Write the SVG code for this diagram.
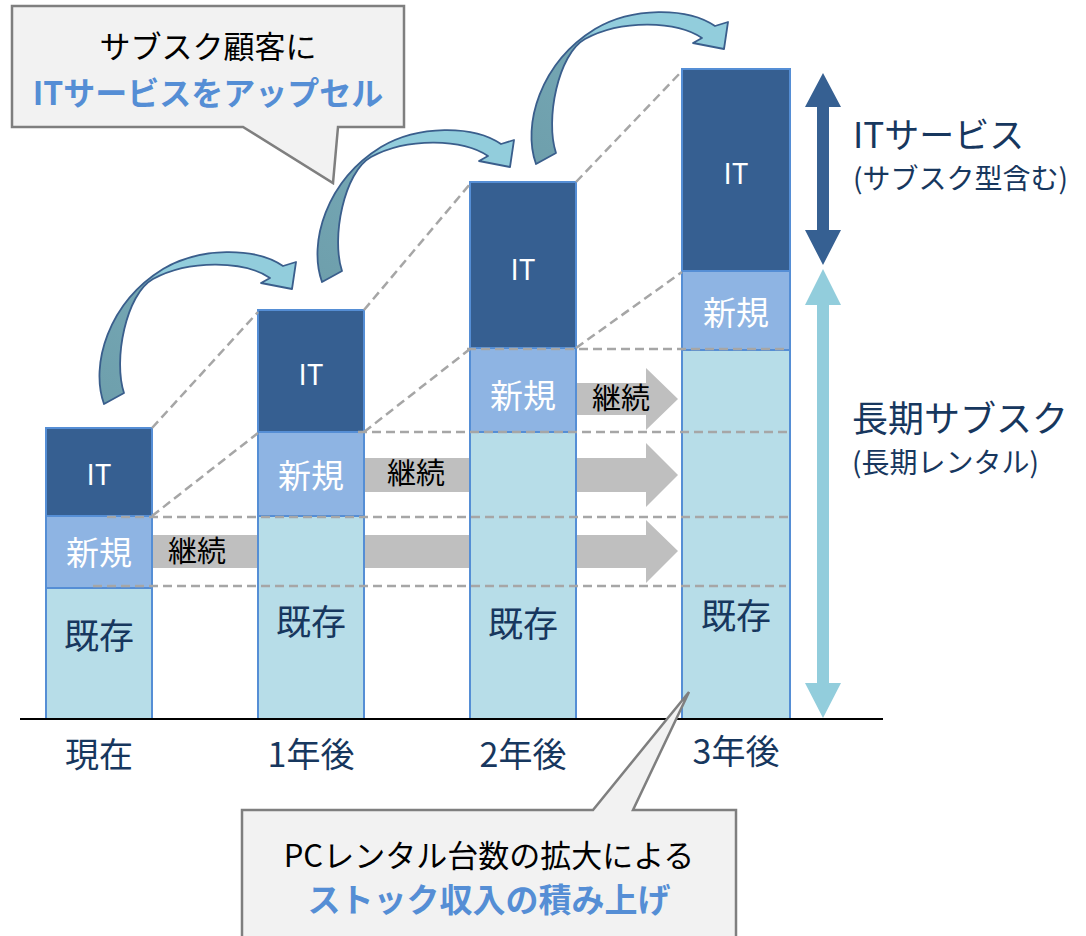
<svg xmlns="http://www.w3.org/2000/svg" width="1086" height="936" viewBox="0 0 1086 936">
<style>
text{font-family:"Noto Sans CJK JP","Noto Sans",sans-serif;text-anchor:middle;dominant-baseline:central}
.it{fill:#365F91;stroke:#558ED5;stroke-width:2}
.nw{fill:#8EB4E3;stroke:#558ED5;stroke-width:2}
.ex{fill:#B7DDE8;stroke:#558ED5;stroke-width:2}
.tw{fill:#fff}
.tn{fill:#17375E}
.dash{stroke:#A6A6A6;stroke-width:2.5;stroke-dasharray:9 5;fill:none}
.garr{fill:#BFBFBF}
.call{fill:#F2F2F2;stroke:#7F7F7F;stroke-width:2.5}
.blue{fill:#558ED5;font-weight:bold}
</style>
<defs>
<linearGradient id="cg" x1="0" y1="1" x2="1" y2="0">
<stop offset="0" stop-color="#6E9FAC"/>
<stop offset="0.5" stop-color="#74A6B3"/>
<stop offset="0.6" stop-color="#92CDDC"/>
<stop offset="1" stop-color="#92CDDC"/>
</linearGradient>
<path id="curve" d="M104,404 C90,365 108,303 163,269 C200,247 255,247 283,266 L296,262 L292,289 L261,283 L270,278 C245,261 190,259 153,279 C126,294 113,360 124,393 Z" fill="url(#cg)" stroke="#3A5E8C" stroke-width="1.8" stroke-linejoin="round"/>
</defs>
<rect width="1086" height="936" fill="#fff"/>

<g id="continue-arrows">
<path class="garr" d="M152,535 H646 V520 L678,551 L646,583 V568 H152 Z"/>
<path class="garr" d="M364,458 H646 V443 L678,475 L646,507 V492 H364 Z"/>
<path class="garr" d="M576,383 H646 V368 L678,399 L646,430 V415 H576 Z"/>
</g>

<g id="bar-now">
<rect class="ex" x="46" y="588" width="106" height="131"/>
<rect class="nw" x="46" y="516" width="106" height="72"/>
<rect class="it" x="46" y="428" width="106" height="88"/>
</g>
<g id="bar-1y">
<rect class="ex" x="258" y="516" width="106" height="203"/>
<rect class="nw" x="258" y="432" width="106" height="84"/>
<rect class="it" x="258" y="310" width="106" height="122"/>
</g>
<g id="bar-2y">
<rect class="ex" x="470" y="432" width="106" height="287"/>
<rect class="nw" x="470" y="348" width="106" height="84"/>
<rect class="it" x="470" y="182" width="106" height="166"/>
</g>
<g id="bar-3y">
<rect class="ex" x="682" y="350" width="108" height="369"/>
<rect class="nw" x="682" y="271" width="108" height="79"/>
<rect class="it" x="682" y="69" width="108" height="202"/>
</g>

<g id="guides">
<line class="dash" x1="152" y1="428" x2="258" y2="312"/>
<line class="dash" x1="364" y1="310" x2="470" y2="184"/>
<line class="dash" x1="576" y1="182" x2="682" y2="71"/>
<line class="dash" x1="152" y1="516" x2="258" y2="433"/>
<line class="dash" x1="364" y1="432" x2="470" y2="349"/>
<line class="dash" x1="576" y1="348" x2="682" y2="272"/>
<line class="dash" x1="93" y1="586" x2="786" y2="586"/>
<line class="dash" x1="107" y1="517" x2="790" y2="517"/>
<line class="dash" x1="358" y1="432" x2="792" y2="432"/>
<line class="dash" x1="467" y1="349" x2="788" y2="349"/>
</g>

<g id="labels">
<text class="tw" x="99" y="473" font-size="28">IT</text>
<text class="tw" x="99" y="551" font-size="33">新規</text>
<text class="tn" x="99" y="633" font-size="35">既存</text>
<text class="tw" x="311" y="373" font-size="28">IT</text>
<text class="tw" x="311" y="474" font-size="33">新規</text>
<text class="tn" x="311" y="619" font-size="35">既存</text>
<text class="tw" x="523" y="268" font-size="28">IT</text>
<text class="tw" x="523" y="394" font-size="33">新規</text>
<text class="tn" x="523" y="621" font-size="35">既存</text>
<text class="tw" x="736" y="172" font-size="28">IT</text>
<text class="tw" x="736" y="311" font-size="33">新規</text>
<text class="tn" x="736" y="613" font-size="35">既存</text>
<text x="197" y="549" font-size="29" fill="#000">継続</text>
<text x="416" y="471" font-size="29" fill="#000">継続</text>
<text x="621" y="396" font-size="29" fill="#000">継続</text>
</g>

<line id="axis" x1="20" y1="719" x2="883" y2="719" stroke="#000" stroke-width="2"/>

<g id="axis-labels">
<text class="tn" x="99" y="752" font-size="34">現在</text>
<text class="tn" x="311" y="752" font-size="34">1年後</text>
<text class="tn" x="523" y="752" font-size="34">2年後</text>
<text class="tn" x="736" y="749" font-size="34">3年後</text>
</g>

<g id="range-it">
<path fill="#366092" d="M823,73 L841,107 H829 V230 H841 L823,265 L805,230 H817 V107 H805 Z"/>
<text class="tn" x="853" y="132" font-size="35" style="text-anchor:start">ITサービス</text>
<text class="tn" x="853" y="177" font-size="28" style="text-anchor:start">(サブスク型含む)</text>
</g>
<g id="range-sub">
<path fill="#92CDDC" d="M823,269 L841,305 H829 V683 H841 L823,718 L805,683 H817 V305 H805 Z"/>
<text class="tn" x="852" y="416" font-size="36" style="text-anchor:start">長期サブスク</text>
<text class="tn" x="852" y="461" font-size="28" style="text-anchor:start">(長期レンタル)</text>
</g>

<g id="upsell-arrows">
<use href="#curve"/>
<use href="#curve" transform="translate(218,-122)"/>
<use href="#curve" transform="translate(432,-240)"/>
</g>

<g id="callout-top">
<path class="call" d="M12,6 H404 V127 H338 L333,183 L243,127 H12 Z"/>
<text x="208" y="44" font-size="31" fill="#000">サブスク顧客に</text>
<text class="blue" x="208" y="91" font-size="32">ITサービスをアップセル</text>
</g>

<g id="callout-bottom">
<path class="call" d="M242,810 H593 L689,692 L633,810 H736 V945 H242 Z"/>
<text x="489" y="853" font-size="31" fill="#000">PCレンタル台数の拡大による</text>
<text class="blue" x="489" y="898" font-size="33">ストック収入の積み上げ</text>
</g>
</svg>
